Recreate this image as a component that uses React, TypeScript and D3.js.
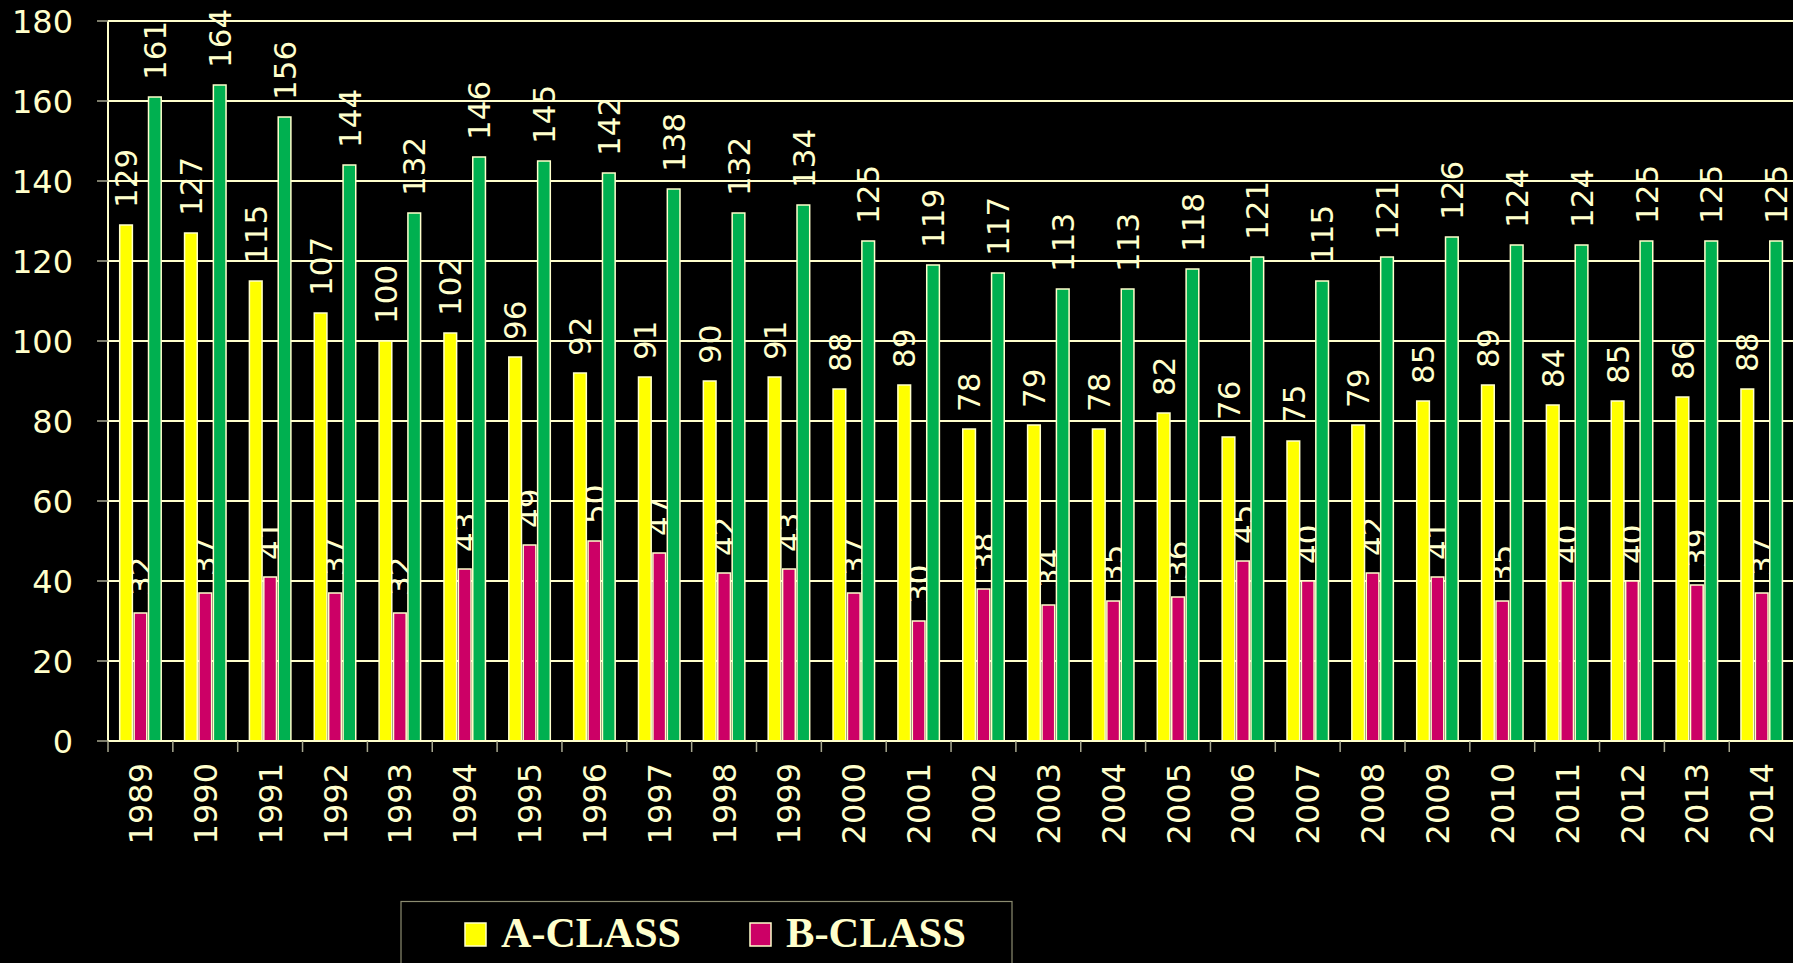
import React, { useEffect, useRef } from "react";
import * as d3 from "d3";

const years = [
  "1989", "1990", "1991", "1992", "1993", "1994", "1995", "1996", "1997",
  "1998", "1999", "2000", "2001", "2002", "2003", "2004", "2005", "2006",
  "2007", "2008", "2009", "2010", "2011", "2012", "2013", "2014",
];
const aClass = [129, 127, 115, 107, 100, 102, 96, 92, 91, 90, 91, 88, 89, 78, 79, 78, 82, 76, 75, 79, 85, 89, 84, 85, 86, 88];
const bClass = [32, 37, 41, 37, 32, 43, 49, 50, 47, 42, 43, 37, 30, 38, 34, 35, 36, 45, 40, 42, 41, 35, 40, 40, 39, 37];
const total = [161, 164, 156, 144, 132, 146, 145, 142, 138, 132, 134, 125, 119, 117, 113, 113, 118, 121, 115, 121, 126, 124, 124, 125, 125, 125];
const seriesNames = ["A-CLASS", "B-CLASS", "TOTAL"];
const legendNames = ["A-CLASS", "B-CLASS"];
const yTicks = [0, 20, 40, 60, 80, 100, 120, 140, 160, 180];

const cream = "#FFFFCC";
const colors = ["#FFFF00", "#CC0066", "#00B050"];

export default function App() {
  const svgRef = useRef<SVGSVGElement>(null);

  useEffect(() => {
    const svg = d3.select(svgRef.current);
    svg.selectAll("*").remove();

    const width = 1793;
    const height = 963;
    // plot area
    const left = 108;
    const top = 21;
    const bottom = 741;
    const step = 64.85;

    const x0 = d3.scaleBand<string>().domain(years).range([left, left + step * years.length]);
    const x1 = d3.scaleBand<string>().domain(seriesNames).range([11.7, 53.2]).paddingInner(0.12);
    const y = d3.scaleLinear().domain([0, 180]).range([bottom, top]);
    const color = d3.scaleOrdinal<string, string>().domain(seriesNames).range(colors);

    svg.append("rect").attr("width", width).attr("height", height).attr("fill", "#000");

    const rows = years.map((yr, i) => ({
      year: yr,
      values: [aClass[i], bClass[i], total[i]].map((v, j) => ({ key: seriesNames[j], value: v })),
    }));

    // data labels (drawn under gridlines and bars like the original)
    const labels = svg.append("g").attr("font-family", "'DejaVu Sans', Verdana, sans-serif").attr("font-size", 31).attr("fill", cream);
    rows.forEach((r) => {
      r.values.forEach((d) => {
        const cx = (x0(r.year) as number) + (x1(d.key) as number) + x1.bandwidth() / 2;
        labels
          .append("text")
          .attr("transform", `translate(${cx},${y(d.value) - 17}) rotate(-90)`)
          .attr("dy", "0.36em")
          .attr("text-anchor", "start")
          .text(d.value);
      });
    });

    // gridlines
    svg
      .append("g")
      .selectAll("line")
      .data(yTicks)
      .join("line")
      .attr("x1", left)
      .attr("x2", width)
      .attr("y1", (d) => y(d))
      .attr("y2", (d) => y(d))
      .attr("stroke", cream)
      .attr("stroke-width", 2);

    // bars
    const groups = svg
      .append("g")
      .selectAll("g")
      .data(rows)
      .join("g")
      .attr("transform", (d) => `translate(${x0(d.year)},0)`);
    groups
      .selectAll("rect")
      .data((d) => d.values)
      .join("rect")
      .attr("x", (d) => x1(d.key) as number)
      .attr("y", (d) => y(d.value))
      .attr("width", x1.bandwidth())
      .attr("height", (d) => bottom - y(d.value))
      .attr("fill", (d) => color(d.key))
      .attr("stroke", cream)
      .attr("stroke-width", 1.5);

    // y axis
    svg.append("line").attr("x1", left).attr("x2", left).attr("y1", top).attr("y2", bottom).attr("stroke", cream).attr("stroke-width", 2);
    svg
      .append("g")
      .selectAll("line")
      .data(yTicks)
      .join("line")
      .attr("x1", left - 11)
      .attr("x2", left)
      .attr("y1", (d) => y(d))
      .attr("y2", (d) => y(d))
      .attr("stroke", "#A8A890")
      .attr("stroke-width", 1.5);
    svg
      .append("g")
      .attr("font-family", "'DejaVu Sans', Verdana, sans-serif")
      .attr("font-size", 32)
      .attr("fill", cream)
      .attr("text-anchor", "end")
      .selectAll("text")
      .data(yTicks)
      .join("text")
      .attr("x", 73)
      .attr("y", (d) => y(d))
      .attr("dy", "0.36em")
      .text((d) => d);

    // x axis
    svg.append("line").attr("x1", left).attr("x2", width).attr("y1", bottom).attr("y2", bottom).attr("stroke", cream).attr("stroke-width", 2);
    svg
      .append("g")
      .selectAll("line")
      .data(years)
      .join("line")
      .attr("x1", (d) => x0(d) as number)
      .attr("x2", (d) => x0(d) as number)
      .attr("y1", bottom)
      .attr("y2", bottom + 11)
      .attr("stroke", "#A8A890")
      .attr("stroke-width", 1.5);
    svg
      .append("g")
      .attr("font-family", "'DejaVu Sans', Verdana, sans-serif")
      .attr("font-size", 32)
      .attr("fill", cream)
      .attr("text-anchor", "end")
      .selectAll("text")
      .data(years)
      .join("text")
      .attr("transform", (d) => `translate(${(x0(d) as number) + x0.bandwidth() / 2},763) rotate(-90)`)
      .attr("dy", "0.36em")
      .text((d) => d);

    // legend
    const legend = svg.append("g");
    legend
      .append("rect")
      .attr("x", 401)
      .attr("y", 901.5)
      .attr("width", 611)
      .attr("height", 80)
      .attr("fill", "#000")
      .attr("stroke", "#8C8C70")
      .attr("stroke-width", 1.2);
    const items = legend
      .selectAll("g")
      .data(legendNames)
      .join("g")
      .attr("transform", (d, i) => `translate(${465 + i * 285},0)`);
    items
      .append("rect")
      .attr("x", 0)
      .attr("y", 923)
      .attr("width", 21)
      .attr("height", 23)
      .attr("fill", (d) => color(d))
      .attr("stroke", cream)
      .attr("stroke-width", 1.5);
    items
      .append("text")
      .attr("x", 36)
      .attr("y", 947)
      .attr("font-family", "'Liberation Serif', 'Times New Roman', serif")
      .attr("font-weight", "bold")
      .attr("font-size", 42)
      .attr("textLength", 180)
      .attr("lengthAdjust", "spacingAndGlyphs")
      .attr("fill", cream)
      .text((d) => d);
  }, []);

  return (
    <div style={{ position: "fixed", left: 0, top: 0, width: 1793, height: 963, background: "#000", overflow: "hidden" }}>
      <svg ref={svgRef} width={1793} height={963} style={{ display: "block" }} />
    </div>
  );
}
